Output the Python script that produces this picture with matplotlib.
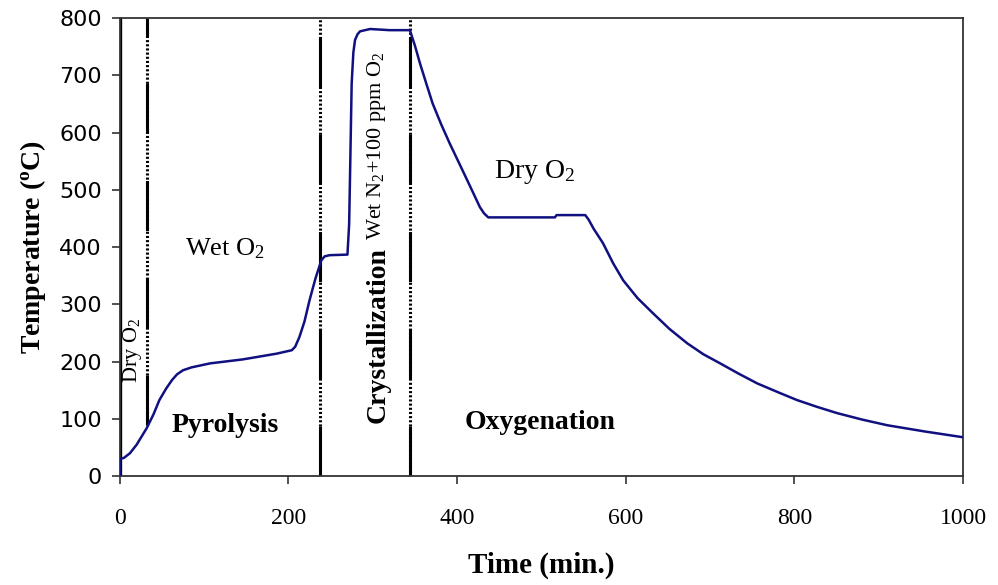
import matplotlib
matplotlib.use('Agg')
import matplotlib.pyplot as plt

plt.rcParams['font.family'] = ['Liberation Serif', 'DejaVu Serif']
plt.rcParams['mathtext.fontset'] = 'custom'
plt.rcParams['mathtext.rm'] = 'Liberation Serif'
plt.rcParams['mathtext.it'] = 'Liberation Serif:italic'
plt.rcParams['mathtext.bf'] = 'Liberation Serif:bold'
plt.rcParams['lines.scale_dashes'] = False

# temperature profile (min, degC)
time_min = [0, 0, 5, 12, 20, 32, 40, 47, 55, 62, 68, 75, 85, 107, 146, 186, 204, 208,
            213, 219, 225, 232, 239, 243, 249, 270, 272, 273, 275, 277, 279, 282, 285,
            297, 320, 344, 350, 356, 363, 371, 381, 391, 402, 412, 420, 427, 432, 437,
            516, 518, 552, 556, 562, 573, 585, 597, 614, 632, 652, 673, 692, 712, 734,
            756, 780, 803, 827, 851, 880, 910, 955, 1000]
temp_c = [0, 30, 32, 40, 55, 84, 108, 133, 153, 168, 178, 185, 190, 197, 204, 214, 220,
          226, 243, 270, 307, 345, 377, 384, 386, 387, 440, 520, 686, 740, 762, 772, 777,
          781, 779, 779, 752, 721, 688, 651, 615, 582, 548, 517, 492, 470, 459, 452,
          452, 456, 456, 448, 432, 407, 372, 342, 311, 285, 257, 232, 213, 197, 179,
          162, 147, 133, 121, 110, 99, 89, 78, 68]

# stage boundaries: (time, bottom, top)
bounds = [(32, 90, 800), (238, 0, 800), (344, 0, 800)]

fig = plt.figure(figsize=(9.98, 5.85), dpi=100)
ax = fig.add_axes([0.120, 0.186, 0.845, 0.783])

ax.plot([0, 0], [0, 800], color='black', lw=2.4, zorder=2)
for xb, y0, y1 in bounds:
    ax.plot([xb, xb], [y0, y1], color='black', lw=2.2, dashes=(1.5, 1.5), zorder=2)
    ax.plot([xb, xb], [y0, y1], color='black', lw=2.2, dashes=(36, 34), zorder=2)

ax.plot(time_min, temp_c, color='#101080', lw=1.8, zorder=3)

ax.set_xlim(0, 1000)
ax.set_ylim(0, 800)
ax.set_xticks([0, 200, 400, 600, 800, 1000])
ax.set_yticks(range(0, 801, 100))
ax.tick_params(direction='out', length=6, width=1.2, color='#333333')
ax.tick_params(axis='x', labelsize=17, pad=17)
ax.tick_params(axis='y', pad=7)
for lab in ax.get_yticklabels():
    lab.set_family('DejaVu Sans')
    lab.set_fontsize(16)
for s in ax.spines.values():
    s.set_color('#333333')
    s.set_linewidth(1.3)

ax.set_xlabel('Time (min.)', fontsize=21, fontweight='bold', labelpad=16)
ax.set_ylabel(r'Temperature ($\mathbf{^{o}}$C)', fontsize=20, fontweight='bold', labelpad=8)

ax.text(125, 398, r'Wet O$_2$', fontsize=19, ha='center', va='center')
ax.text(125, 89, 'Pyrolysis', fontsize=20, fontweight='bold', ha='center', va='center')
ax.text(15, 220, r'Dry O$_2$', fontsize=16, rotation=90, ha='center', va='center')
ax.text(306, 246, 'Crystallization', fontsize=20, fontweight='bold', rotation=90,
        ha='center', va='center')
ax.text(305, 578, r'Wet N$_2$+100 ppm O$_2$', fontsize=16, rotation=90,
        ha='center', va='center')
ax.text(492, 531, r'Dry O$_2$', fontsize=20, ha='center', va='center')
ax.text(498, 94, 'Oxygenation', fontsize=20, fontweight='bold', ha='center', va='center')

fig.savefig('out.png', dpi=100)
